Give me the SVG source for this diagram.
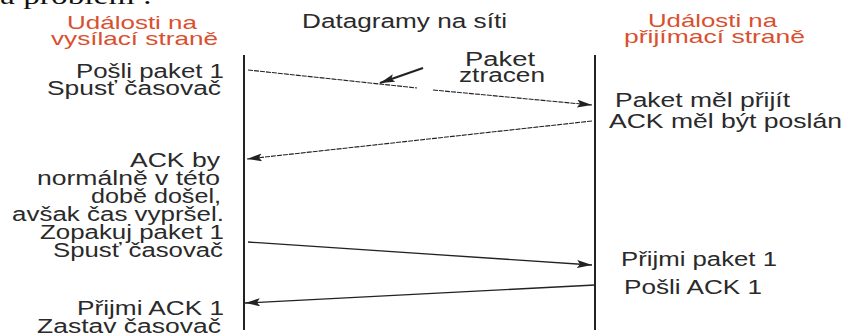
<svg xmlns="http://www.w3.org/2000/svg" width="843" height="336" viewBox="0 0 843 336">
<style>
text{font-family:"Liberation Sans",Arial,sans-serif;font-size:20px;fill:#2a2a2a;}
.hd{font-size:19px;fill:#d9502f;}
.top{font-family:"Liberation Serif","Times New Roman",serif;font-size:26px;fill:#111;}
.life{stroke:#222;stroke-width:2;fill:none;}
.msg{stroke:#222;stroke-width:1.3;fill:none;}
.dash{stroke-width:1.1;stroke-dasharray:5 1;}
</style>
<defs>
<marker id="ah" markerUnits="userSpaceOnUse" markerWidth="16" markerHeight="10" refX="15" refY="4" orient="auto">
<path d="M0,0 L15,4 L0,8 L3,4 z" fill="#222"/>
</marker>
</defs>
<rect width="843" height="336" fill="#fff"/>
<text class="top" x="0" y="4" textLength="152" lengthAdjust="spacingAndGlyphs">a problém :</text>
<g id="sender">
<text class="hd" x="67" y="29" textLength="130" lengthAdjust="spacingAndGlyphs">Události na</text>
<text class="hd" x="51" y="45" textLength="167" lengthAdjust="spacingAndGlyphs">vysílací straně</text>
<line class="life" x1="244" y1="55" x2="244" y2="330"/>
</g>
<g id="network">
<text x="302" y="28" textLength="205" lengthAdjust="spacingAndGlyphs">Datagramy na síti</text>
</g>
<g id="receiver">
<text class="hd" x="648" y="27" textLength="129" lengthAdjust="spacingAndGlyphs">Události na</text>
<text class="hd" x="624" y="43" textLength="181" lengthAdjust="spacingAndGlyphs">přijímací straně</text>
<line class="life" x1="595" y1="55" x2="595" y2="330"/>
</g>
<g id="send1">
<text x="76" y="78" textLength="148" lengthAdjust="spacingAndGlyphs">Pošli paket 1</text>
<text x="47" y="95" textLength="174" lengthAdjust="spacingAndGlyphs">Spusť časovač</text>
</g>
<g id="lost">
<text x="465" y="66" textLength="70" lengthAdjust="spacingAndGlyphs">Paket</text>
<text x="459" y="82" textLength="86" lengthAdjust="spacingAndGlyphs">ztracen</text>
</g>
<g id="recv1">
<text x="615" y="107" textLength="175" lengthAdjust="spacingAndGlyphs">Paket měl přijít</text>
<text x="609" y="128" textLength="233" lengthAdjust="spacingAndGlyphs">ACK měl být poslán</text>
</g>
<g id="timeout">
<text x="130" y="167" textLength="90" lengthAdjust="spacingAndGlyphs">ACK by</text>
<text x="37" y="185" textLength="183" lengthAdjust="spacingAndGlyphs">normálně v této</text>
<text x="91" y="203" textLength="130" lengthAdjust="spacingAndGlyphs">době došel,</text>
<text x="12" y="221" textLength="212" lengthAdjust="spacingAndGlyphs">avšak čas vypršel.</text>
<text x="40" y="239" textLength="184" lengthAdjust="spacingAndGlyphs">Zopakuj paket 1</text>
<text x="53" y="257" textLength="170" lengthAdjust="spacingAndGlyphs">Spusť časovač</text>
</g>
<g id="recv2">
<text x="621" y="266" textLength="156" lengthAdjust="spacingAndGlyphs">Přijmi paket 1</text>
<text x="624" y="294" textLength="138" lengthAdjust="spacingAndGlyphs">Pošli ACK 1</text>
</g>
<g id="ack">
<text x="77" y="315" textLength="147" lengthAdjust="spacingAndGlyphs">Přijmi ACK 1</text>
<text x="37" y="333" textLength="184" lengthAdjust="spacingAndGlyphs">Zastav časovač</text>
</g>
<g id="connectors">
<line class="msg dash" x1="248" y1="70" x2="417" y2="88"/>
<line class="msg dash" x1="433" y1="90" x2="592" y2="105" marker-end="url(#ah)"/>
<line class="msg dash" x1="592" y1="121" x2="247" y2="159" marker-end="url(#ah)"/>
<line class="msg" x1="248" y1="242" x2="592" y2="265" marker-end="url(#ah)"/>
<line class="msg" x1="595" y1="285" x2="245" y2="303" marker-end="url(#ah)"/>
<line stroke="#222" stroke-width="2.2" x1="423" y1="68" x2="380" y2="83" marker-end="url(#ah)"/>
</g>
</svg>
